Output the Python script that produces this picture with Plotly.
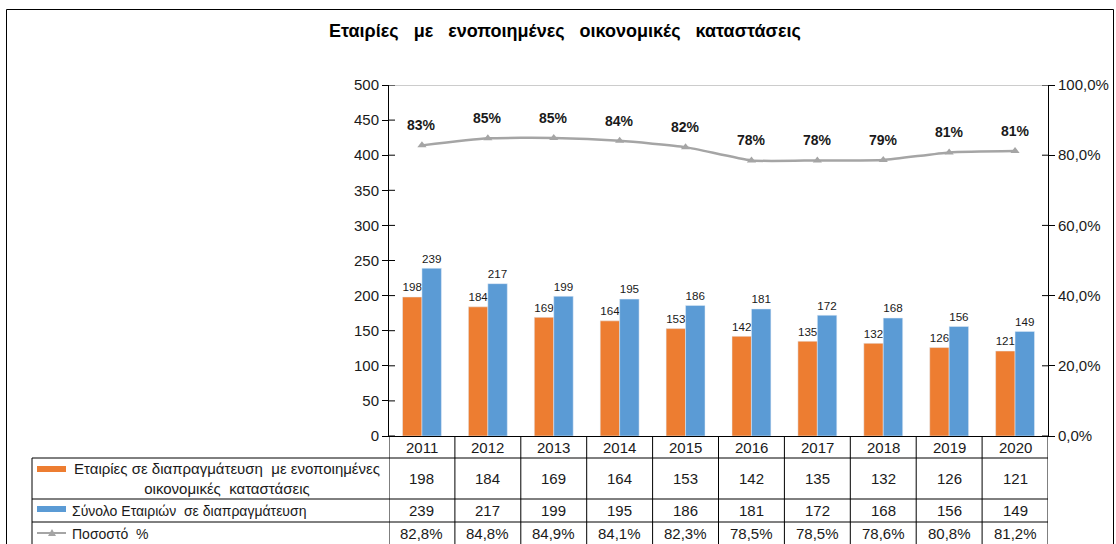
import plotly.graph_objects as go

years = ["2011", "2012", "2013", "2014", "2015", "2016", "2017", "2018", "2019", "2020"]
consolidated = [198, 184, 169, 164, 153, 142, 135, 132, 126, 121]
total = [239, 217, 199, 195, 186, 181, 172, 168, 156, 149]
pct = [0.828, 0.848, 0.849, 0.841, 0.823, 0.785, 0.785, 0.786, 0.808, 0.812]
pct_labels = ["83%", "85%", "85%", "84%", "82%", "78%", "78%", "79%", "81%", "81%"]
pct_table = ["82,8%", "84,8%", "84,9%", "84,1%", "82,3%", "78,5%", "78,5%", "78,6%", "80,8%", "81,2%"]
left_ticks = [0, 50, 100, 150, 200, 250, 300, 350, 400, 450, 500]
right_ticks = [0, 0.2, 0.4, 0.6, 0.8, 1.0]

name1 = "Εταιρίες σε διαπραγμάτευση\u00a0 με ενοποιημένες"
name1b = "οικονομικές\u00a0 καταστάσεις"
name2 = "Σύνολο Εταιριών\u00a0 σε διαπραγμάτευση"
name3 = "Ποσοστό\u00a0 %"
title = "Εταιρίες\u00a0\u00a0 με\u00a0\u00a0 ενοποιημένες\u00a0\u00a0 οικονομικές\u00a0\u00a0 καταστάσεις"

W, H = 1116, 544
ORANGE = "#ED7D31"
BLUE = "#5B9BD5"
GRAY = "#A5A5A5"
TXT = "#1a1a1a"
FONT = "Liberation Sans, Arial, sans-serif"

def px_x(x):
    return x / W

def px_y(y):
    return 1 - y / H

X0, X1 = 389, 1048
Y0, Y1 = 436, 85

fig = go.Figure()
fig.add_trace(go.Bar(x=years, y=consolidated, marker_color=ORANGE, name=name1,
                     text=consolidated, textposition="outside", cliponaxis=False,
                     textfont=dict(size=13, color=TXT, family=FONT)))
fig.add_trace(go.Bar(x=years, y=total, marker_color=BLUE, name=name2,
                     text=total, textposition="outside", cliponaxis=False,
                     textfont=dict(size=13, color=TXT, family=FONT)))
fig.add_trace(go.Scatter(x=years, y=pct, yaxis="y2", mode="lines+markers", name=name3,
                         line=dict(color=GRAY, width=2.5, shape="spline", smoothing=0.5),
                         marker=dict(symbol="triangle-up", size=8, color=GRAY)))

annotations = []
shapes = []

def ann(**kw):
    d = dict(showarrow=False, yanchor="middle", font=dict(size=15, color=TXT, family=FONT))
    d.update(kw)
    annotations.append(d)

ann(text="<b>" + title + "</b>", x=px_x(565), y=px_y(31), xref="paper", yref="paper",
    font=dict(size=18, color="#000", family=FONT), xanchor="center")

for i, (v, lab) in enumerate(zip(pct, pct_labels)):
    ann(text="<b>" + lab + "</b>", x=i, y=v, xref="x", yref="y2", yshift=20,
        font=dict(size=14, color=TXT, family=FONT))

rows_y = {"year": (436, 458), "r1": (458, 499), "r2": (499, 522), "r3": (522, 545)}
def cy(key):
    a, b = rows_y[key]
    return px_y((a + b) / 2)

for i, yr in enumerate(years):
    ann(text=yr, x=i, y=cy("year"), xref="x", yref="paper")
    ann(text=str(consolidated[i]), x=i, y=cy("r1"), xref="x", yref="paper")
    ann(text=str(total[i]), x=i, y=cy("r2"), xref="x", yref="paper")
    ann(text=pct_table[i], x=i, y=cy("r3"), xref="x", yref="paper")

ann(text=name1 + "<br>" + name1b, x=px_x(227), y=cy("r1"), xref="paper", yref="paper",
    align="center", xanchor="center", font=dict(size=15, color=TXT, family=FONT))
ann(text=name2, x=px_x(70), y=cy("r2"), xref="paper", yref="paper", xanchor="left",
    font=dict(size=14, color=TXT, family=FONT))
ann(text=name3, x=px_x(70), y=cy("r3"), xref="paper", yref="paper", xanchor="left",
    font=dict(size=14, color=TXT, family=FONT))

shapes.append(dict(type="rect", xref="paper", yref="paper", x0=px_x(37), x1=px_x(66), y0=px_y(472), y1=px_y(466),
                   fillcolor=ORANGE, line=dict(width=0)))
shapes.append(dict(type="rect", xref="paper", yref="paper", x0=px_x(37), x1=px_x(66), y0=px_y(512), y1=px_y(506),
                   fillcolor=BLUE, line=dict(width=0)))
shapes.append(dict(type="line", xref="paper", yref="paper", x0=px_x(37), x1=px_x(66), y0=px_y(533), y1=px_y(533),
                   line=dict(color=GRAY, width=2)))
shapes.append(dict(type="path", xref="paper", yref="paper",
                   path="M %f %f L %f %f L %f %f Z" % (px_x(48), px_y(536), px_x(56), px_y(536), px_x(52), px_y(529)),
                   fillcolor=GRAY, line=dict(width=0)))

LC = "#000000"
for yy in [458, 499, 522]:
    shapes.append(dict(type="line", xref="paper", yref="paper", x0=px_x(32), x1=px_x(1048), y0=px_y(yy), y1=px_y(yy),
                       line=dict(color=LC, width=1)))
shapes.append(dict(type="line", xref="paper", yref="paper", x0=px_x(32), x1=px_x(32), y0=px_y(458), y1=px_y(560),
                   line=dict(color=LC, width=1)))
for i in range(len(years) + 1):
    shapes.append(dict(type="line", xref="x", yref="paper", x0=i - 0.5, x1=i - 0.5, y0=px_y(436), y1=px_y(560),
                       line=dict(color=LC, width=1)))
shapes.append(dict(type="line", xref="x domain", yref="y", x0=0, x1=1, y0=500, y1=500,
                   line=dict(color="#999999", width=1)))
for t in left_ticks:
    shapes.append(dict(type="line", xref="x domain", yref="y", x0=0, x1=6 / (X1 - X0), y0=t, y1=t,
                       line=dict(color=LC, width=1)))
for t in right_ticks:
    shapes.append(dict(type="line", xref="x domain", yref="y2", x0=1 - 6 / (X1 - X0), x1=1, y0=t, y1=t,
                       line=dict(color=LC, width=1)))
# outer frame
shapes.append(dict(type="rect", xref="paper", yref="paper", x0=px_x(6.5), x1=px_x(1113.5), y0=px_y(570), y1=px_y(9.5),
                   line=dict(color="#000000", width=1), fillcolor="rgba(0,0,0,0)"))

fig.update_layout(
    width=W, height=H, margin=dict(l=0, r=0, t=0, b=0, pad=0, autoexpand=False),
    paper_bgcolor="white", plot_bgcolor="white",
    barmode="group", bargap=0.41, bargroupgap=0,
    showlegend=False, separators=",.",
    font=dict(family=FONT, size=13, color=TXT),
    xaxis=dict(type="category", domain=[px_x(X0), px_x(X1)], range=[-0.5, len(years) - 0.5], automargin=False,
               showticklabels=False, ticks="", showgrid=False,
               showline=True, linecolor=LC, linewidth=1, zeroline=False),
    yaxis=dict(domain=[px_y(Y0), px_y(Y1)], range=[0, 500], tickvals=left_ticks, showgrid=False, zeroline=False,
               automargin=False, showline=True, linecolor=LC, linewidth=1, ticks="outside", ticklen=6, tickcolor=LC,
               tickfont=dict(size=15, color=TXT, family=FONT)),
    yaxis2=dict(overlaying="y", side="right", anchor="x", range=[0, 1], tickvals=right_ticks, tickformat=".1%",
                automargin=False, showgrid=False, zeroline=False, showline=True, linecolor=LC, linewidth=1,
                ticks="outside", ticklen=6, tickcolor=LC, tickfont=dict(size=15, color=TXT, family=FONT)),
    annotations=annotations, shapes=shapes,
)

post = ("document.documentElement.style.margin='0';document.body.style.margin='0';"
        "document.body.style.overflow='hidden';document.documentElement.style.overflow='hidden';"
        "var d=document.getElementById('{plot_id}');d.style.position='fixed';d.style.left='0px';d.style.top='0px';")
fig.write_html("out.html", config={"displayModeBar": False}, post_script=post)
